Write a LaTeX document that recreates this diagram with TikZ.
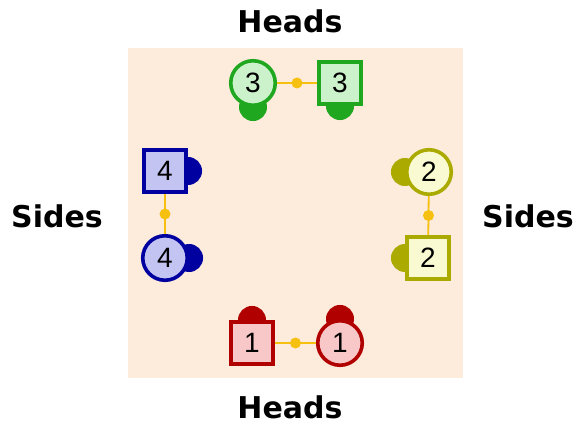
\documentclass[tikz,border=0pt]{standalone}
\usepackage{fontspec}
\setmainfont{DejaVu Sans}
\newfontfamily\numfont{Liberation Sans}
\pgfdeclarelayer{bglayer}
\pgfdeclarelayer{headlayer}
\pgfsetlayers{bglayer,headlayer,main}
\definecolor{bgpeach}{HTML}{FDEBDC}
\definecolor{gline}{HTML}{1FA81F}
\definecolor{gfill}{HTML}{CCF2CC}
\definecolor{bline}{HTML}{0000A0}
\definecolor{bfill}{HTML}{C4C4F2}
\definecolor{yline}{HTML}{AAAA00}
\definecolor{yfill}{HTML}{FAFAD2}
\definecolor{rline}{HTML}{B00000}
\definecolor{rfill}{HTML}{F8C8C8}
\definecolor{conncol}{HTML}{F5C010}
\tikzset{
  shp/.style={line width=3.6pt, inner sep=0pt, font=\numfont\fontsize{28}{30}\selectfont},
  circ/.style={shp, circle, minimum size=44.5pt},
  sq/.style={shp, rectangle, minimum size=42.5pt},
  headdot/.style={circle, fill=#1, draw=none, minimum size=28pt, inner sep=0pt},
  conn/.style={conncol, line width=1.8pt},
  jdot/.style={circle, fill=conncol, draw=none, minimum size=11pt, inner sep=0pt},
  lbl/.style={font=\bfseries\fontsize{30}{34}\selectfont, inner sep=0pt}
}
\begin{document}
\begin{tikzpicture}[x=1pt,y=-1pt]
\useasboundingbox (0,0) rectangle (579,425);
\begin{pgfonlayer}{bglayer}
\fill[bgpeach] (128,48) rectangle (463,378);
\end{pgfonlayer}
% labels
\node[lbl] (ht) at (290,21) {Heads};
\node[lbl] (hb) at (290,407) {Heads};
\node[lbl] (sl) at (57,216) {Sides};
\node[lbl] (sr) at (528,216) {Sides};
% top group (green)
\node[circ, draw=gline, fill=gfill] (c3) at (253,83) {3};
\node[sq, draw=gline, fill=gfill] (s3) at (340,83) {3};
% left group (blue)
\node[sq, draw=bline, fill=bfill] (s4) at (165,171) {4};
\node[circ, draw=bline, fill=bfill] (c4) at (165,258) {4};
% right group (olive)
\node[circ, draw=yline, fill=yfill] (c2) at (429,172) {2};
\node[sq, draw=yline, fill=yfill] (s2) at (428,258) {2};
% bottom group (red)
\node[sq, draw=rline, fill=rfill] (s1) at (252,343) {1};
\node[circ, draw=rline, fill=rfill] (c1) at (340,343) {1};
% heads
\begin{pgfonlayer}{headlayer}
\node[headdot=gline] (hc3) at (c3.south) {};
\node[headdot=gline] (hs3) at (s3.south) {};
\node[headdot=bline] (hs4) at (s4.east) {};
\node[headdot=bline] (hc4) at (c4.east) {};
\node[headdot=yline] (hc2) at (c2.west) {};
\node[headdot=yline] (hs2) at (s2.west) {};
\node[headdot=rline] (hs1) at (s1.north) {};
\node[headdot=rline] (hc1) at (c1.north) {};
\end{pgfonlayer}
% connectors
\draw[conn] (c3) -- (s3) node[jdot, midway] (d3) {};
\draw[conn] (s4) -- (c4) node[jdot, midway] (d4) {};
\draw[conn] (c2) -- (s2) node[jdot, midway] (d2) {};
\draw[conn] (s1) -- (c1) node[jdot, midway] (d1) {};
\end{tikzpicture}
\end{document}
